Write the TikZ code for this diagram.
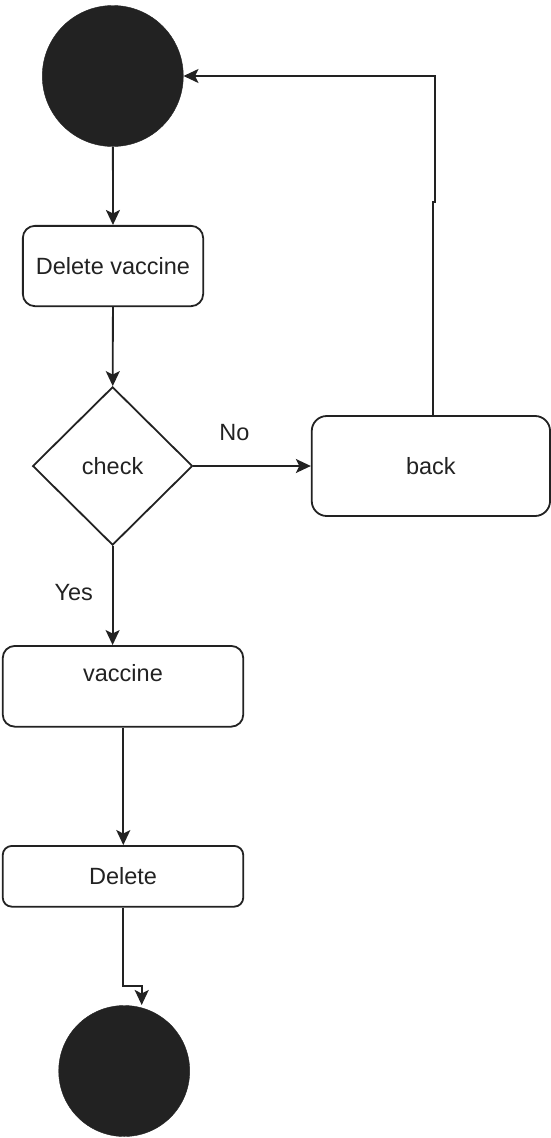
\documentclass[tikz,border=0pt]{standalone}
\usepackage{fontspec}
\setmainfont{Liberation Sans}
\usetikzlibrary{shapes.geometric,arrows.meta}
\definecolor{ink}{HTML}{222222}
\begin{document}
\begin{tikzpicture}[x=1pt,y=-1pt,
  every node/.style={font=\fontsize{23.5}{28}\selectfont, text=ink, inner sep=0pt},
  box/.style={draw=ink, line width=1.8pt, rounded corners=#1, fill=white},
  box/.default=12pt,
  dot/.style={circle, fill=ink, draw=ink},
  decision/.style={diamond, draw=ink, line width=1.8pt, aspect=0.96},
  arr/.style={draw=ink, line width=1.8pt, -{Stealth[length=15pt,width=14pt,inset=3.5pt]}},
  lbl/.style={}]
\useasboundingbox (0,0) rectangle (551,1138);

% start and end markers
\node[dot, minimum size=141pt] (start) at (112.8,76) {};
\node[dot, minimum size=131pt] (end) at (124.2,1071) {};

% activity boxes
\node[box, minimum width=180.3pt, minimum height=80.3pt] (dv) at (113,266) {Delete vaccine};
\node[decision, minimum width=159.9pt, minimum height=158.3pt] (check) at (112.6,466) {check};
\node[box=15pt, minimum width=238.3pt, minimum height=100pt] (back) at (430.9,466) {back};
\node[box, minimum width=240.5pt, minimum height=80.7pt] (vac) at (123,686.3) {};
\node at (123,673.3) (vact) {vaccine};
\node[box=9pt, minimum width=240.5pt, minimum height=60.7pt] (del) at (123,876.3) {Delete};

% connector bends
\coordinate (b1) at (433,202);
\coordinate (b2) at (434.6,202);
\coordinate (b3) at (434.6,76);
\coordinate (e1) at (123.3,986);
\coordinate (e2) at (141.7,986);
\coordinate (e3) at (141.7,1005);

% connectors
\draw[arr] (start) -- (dv);
\draw[arr] (dv) -- (check);
\draw[arr] (check.east) -- (back.west);
\draw[arr] (back.north -| b1) -- (b1) -- (b2) -- (b3) -- (start.east);
\draw[arr] (check.south) -- (check.south |- vac.north);
\draw[arr] (vac.south -| e1) -- (del.north -| e1);
\draw[arr] (del.south -| e1) -- (e1) -- (e2) -- (e3);

% branch labels
\node[lbl] (no) at (234.5,433) {No};
\node[lbl] (yes) at (73.8,593) {Yes};
\end{tikzpicture}
\end{document}
